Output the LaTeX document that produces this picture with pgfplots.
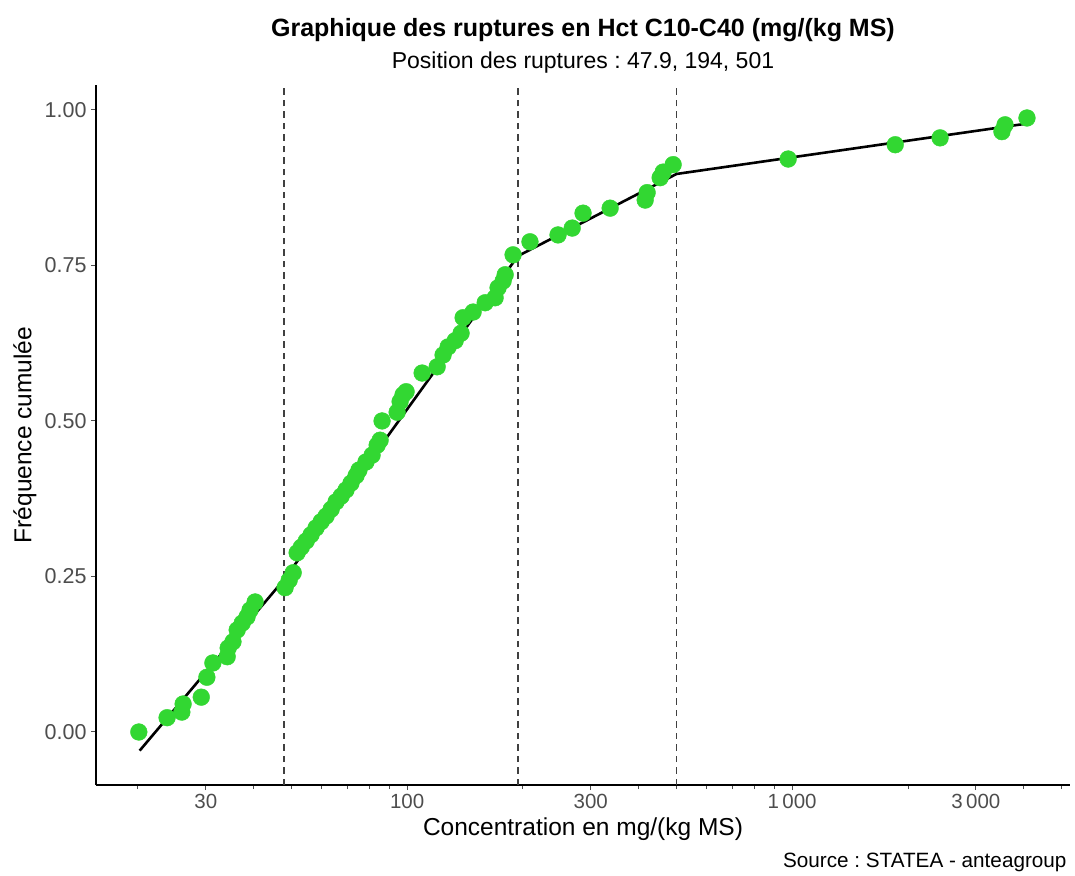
\documentclass[border=0pt]{standalone}
\usepackage{fontspec}
\setmainfont{Liberation Sans}
\usepackage{pgfplots}
\pgfplotsset{compat=1.18}
\definecolor{ptgreen}{RGB}{50,215,50}
\definecolor{ticklab}{RGB}{77,77,77}
\definecolor{dashcol}{RGB}{64,64,64}
\frenchspacing
\begin{document}
\begin{tikzpicture}[x=1pt,y=1pt]
\path[use as bounding box] (-96,-90) rectangle (979,785);
\begin{axis}[
  at={(0,0)}, anchor=south west,
  scale only axis, width=974pt, height=700pt,
  xmode=log, xmin=15.56, xmax=5270, ymin=-0.0852, ymax=1.040,
  axis x line*=bottom, axis y line*=left,
  axis line style={black, line width=1.1pt},
  xtick={30,100,300,1000,3000},
  xticklabels={30,100,300,1\,000,3\,000},
  minor xtick={20,40,50,60,70,80,90,200,400,500,600,700,800,900,2000,4000,5000},
  ytick={0,0.25,0.5,0.75,1},
  yticklabels={0.00,0.25,0.50,0.75,1.00},
  tick align=outside,
  major tick length=5pt, minor tick length=4pt,
  tick style={ticklab, line width=1pt},
  ticklabel style={font=\fontsize{20.5}{24}\selectfont, text=ticklab},
  yticklabel style={font=\fontsize{21.5}{24}\selectfont},
  xticklabel style={yshift=-1pt},
  yticklabel style={xshift=-1pt},
]
% break positions
\addplot[dashcol, line width=1.7pt, dash pattern=on 6.5pt off 5pt] coordinates {(47.9,-0.0852) (47.9,1.040)};
\addplot[dashcol, line width=1.7pt, dash pattern=on 6.5pt off 5pt] coordinates {(194,-0.0852) (194,1.040)};
\addplot[dashcol, line width=1.7pt, dash pattern=on 6.5pt off 5pt] coordinates {(501,-0.0852) (501,1.040)};
% fitted segmented line
\addplot[black, line width=2.6pt, no marks] coordinates {
(20.2,-0.030) (47.9,0.245) (194,0.765) (501,0.897) (4074,0.978)};
% observations
\addplot[only marks, mark=*, mark size=8.4pt, color=ptgreen, mark options={fill=ptgreen, draw=ptgreen}] table {
x y
20.1 0.000
23.8 0.023
26.0 0.032
26.2 0.045
29.2 0.056
30.2 0.088
31.3 0.111
34.1 0.121
34.3 0.135
35.3 0.145
36.2 0.164
37.3 0.175
38.4 0.185
39.1 0.196
40.3 0.209
48.2 0.232
49.4 0.244
50.6 0.256
51.8 0.288
53.1 0.297
54.7 0.307
56.3 0.317
58.0 0.328
59.8 0.338
61.6 0.347
63.5 0.358
65.4 0.370
67.4 0.379
69.4 0.389
71.5 0.400
73.7 0.412
75.0 0.421
78.2 0.434
81.1 0.445
83.6 0.461
85.1 0.469
86.1 0.500
94.2 0.514
95.9 0.531
97.6 0.542
99.4 0.547
109.4 0.577
119.7 0.587
124.0 0.606
127.8 0.619
133.3 0.629
138.1 0.641
139.8 0.666
148.4 0.675
159.5 0.690
169.3 0.698
172.3 0.714
177.6 0.725
179.8 0.735
188.5 0.767
208.5 0.788
246.6 0.799
268.4 0.810
286.4 0.834
336.8 0.842
415.3 0.855
420.2 0.867
454.2 0.891
462.4 0.900
490.9 0.912
976.6 0.921
1853 0.944
2423 0.955
3508 0.965
3573 0.976
4074 0.987
};
\end{axis}
\node[font=\fontsize{25}{30}\selectfont\bfseries] at (487,755) {Graphique des ruptures en Hct C10-C40 (mg/(kg MS)};
\node[font=\fontsize{23}{28}\selectfont] at (487,722) {Position des ruptures : 47.9, 194, 501};
\node[font=\fontsize{24.5}{29}\selectfont] at (487,-44) {Concentration en mg/(kg MS)};
\node[font=\fontsize{24.5}{29}\selectfont, rotate=90] at (-71,350) {Fréquence cumulée};
\node[font=\fontsize{20.7}{25}\selectfont, anchor=east] at (974,-77) {Source : STATEA - anteagroup};
\end{tikzpicture}
\end{document}
